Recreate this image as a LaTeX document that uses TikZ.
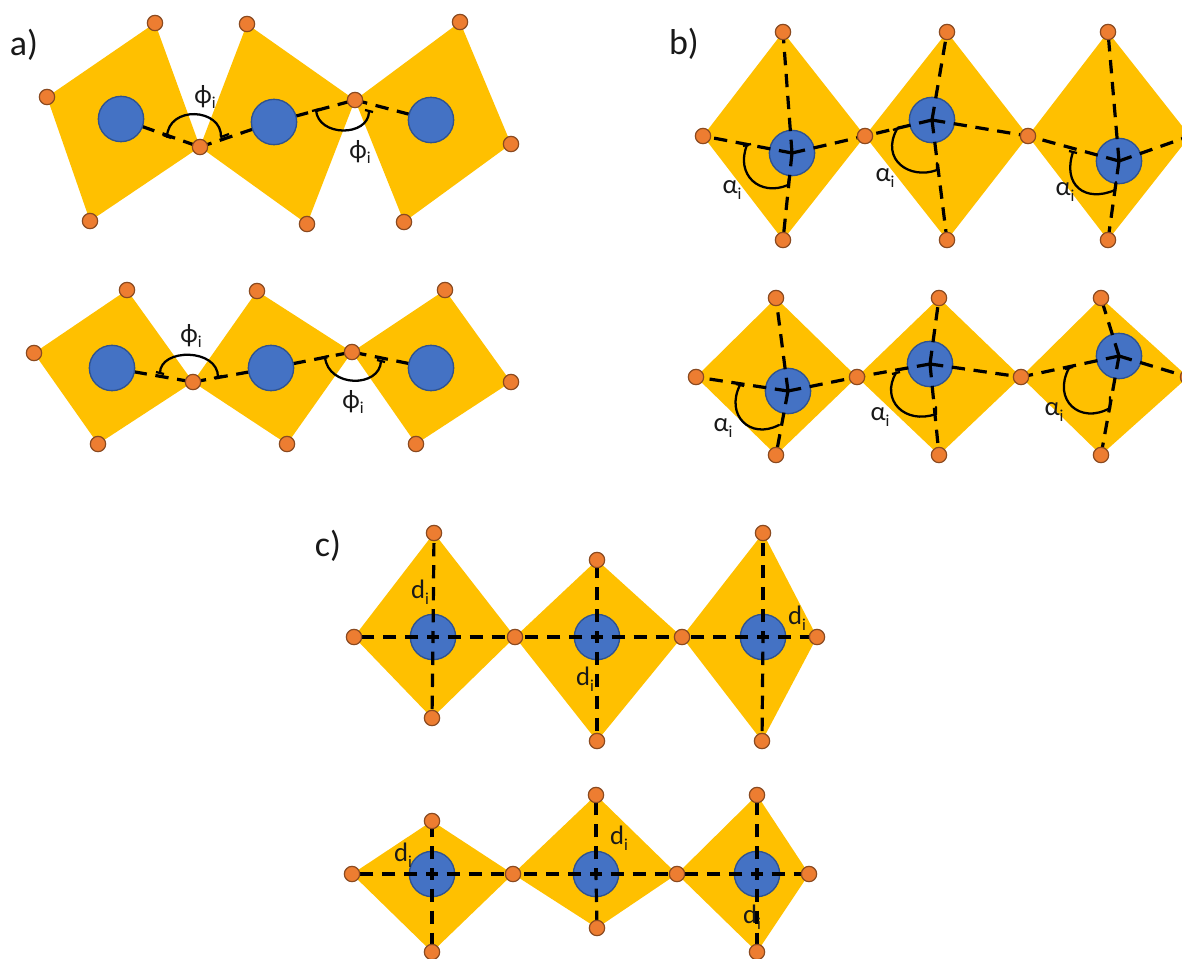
\documentclass[tikz,border=0pt]{standalone}
\usepackage{fontspec}
\setmainfont{Carlito}
\pgfdeclarelayer{yellowlayer}\pgfdeclarelayer{dashunder}\pgfdeclarelayer{bluelayer}\pgfdeclarelayer{dashover}
\pgfsetlayers{yellowlayer,dashunder,bluelayer,dashover,main}
\definecolor{faceY}{HTML}{FFC000}
\definecolor{metalB}{HTML}{4472C4}
\definecolor{metalE}{HTML}{2F528F}
\definecolor{oxO}{HTML}{ED7D31}
\definecolor{oxE}{HTML}{8A4A20}
\newcommand{\lbl}[2]{{\fontsize{20}{24}\selectfont #1\raisebox{-0.22em}{\fontsize{12.5}{15}\selectfont #2}}}
\tikzset{
 oxv/.style={circle,draw=oxE,fill=oxO,line width=0.9pt,minimum size=11.5pt,inner sep=0pt,outer sep=0pt},
 metal/.style={circle,draw=metalE,fill=metalB,line width=1pt,minimum size=34pt,inner sep=0pt,outer sep=0pt},
 face/.style={fill=faceY,draw=none},
 bond/.style={line width=2.4pt,dash pattern=on 10pt off 6.5pt,black},
 crossbond/.style={line width=2.4pt,dash pattern=on 10pt off 6.5pt,dash phase=5.5pt,black},
 anglearc/.style={line width=1.7pt,black,line cap=round},
 tick/.style={line width=1.7pt,black},
 txt/.style={inner sep=0pt,outer sep=0pt,text=black!90},
 panel/.style={txt,font=\fontsize{27}{32}\selectfont},
}
\begin{document}
\begin{tikzpicture}[x=0.75pt,y=-0.75pt]
\useasboundingbox (0,0) rectangle (1182,958);
\clip (0,0) rectangle (1182,958);
% oxygen vertices
\foreach \n/\x/\y in {
 a1t/155/23,a1l/47/97,a1b/90/221,a1s/200/147,a1u/247/24,a1d/307/224,a1q/355/100,a1w/460/22,a1e/404/222,a1r/511/144,
 a2t/127/290,a2l/34/353,a2b/98/444,a2s/193/382,a2u/257/291,a2d/287/444,a2q/352/352,a2w/445/290,a2e/416/444,a2r/511/382,
 b1t/783/32,b1l/703/136,b1b/783/240,b1s/865/136,b1u/947/32,b1d/947/240,b1q/1028/136,b1w/1108/32,b1e/1108/240,b1r/1190/136,
 b2t/776/298,b2l/696/377,b2b/776/455,b2s/857/377,b2u/939/298,b2d/939/455,b2q/1021/377,b2w/1101/298,b2e/1101/455,b2r/1188/377,
 c1t/434/533,c1l/354/637,c1b/432/718,c1s/515/637,c1u/597/560,c1d/597/741,c1q/682/637,c1w/763/533,c1e/762/741,c1r/817/637,
 c2t/432/821,c2l/352/874,c2b/432/952,c2s/513/874,c2u/596/795,c2d/597/928,c2q/677/874,c2w/757/795,c2e/757/952,c2r/809/874}
 {\node[oxv] (\n) at (\x,\y) {};}
% metal atoms
\begin{pgfonlayer}{bluelayer}
\foreach \n/\x/\y in {
 a1m/121/119,a1n/274/122,a1o/431/120,
 a2m/112/368,a2n/271/368,a2o/431/368,
 b1m/792/153,b1n/932/120,b1o/1119/161,
 b2m/788/391,b2n/930/364,b2o/1119/356,
 c1m/433/637,c1n/597/637,c1o/763/637,
 c2m/432/874,c2n/596/874,c2o/757/874}
 {\node[metal] (\n) at (\x,\y) {};}
\end{pgfonlayer}
% octahedra faces
\begin{pgfonlayer}{yellowlayer}
\foreach \p in {a1,a2,b1,b2,c1,c2}{
 \fill[face] (\p t.center) -- (\p s.center) -- (\p b.center) -- (\p l.center) -- cycle;
 \fill[face] (\p u.center) -- (\p q.center) -- (\p d.center) -- (\p s.center) -- cycle;
 \fill[face] (\p w.center) -- (\p r.center) -- (\p e.center) -- (\p q.center) -- cycle;
}
\end{pgfonlayer}
% bonds under the atoms (panel a)
\begin{pgfonlayer}{dashunder}
\foreach \p in {a1,a2}{
 \draw[bond] (\p m.center) -- (\p s.center);
 \draw[bond] (\p n.center) -- (\p s.center);
 \draw[bond] (\p n.center) -- (\p q.center);
 \draw[bond] (\p o.center) -- (\p q.center);
}
\end{pgfonlayer}
% bonds over the atoms (panels b, c)
\begin{pgfonlayer}{dashover}
\foreach \p in {b1,b2}{
 \foreach \v in {t,s,b,l}{\draw[bond] (\p m.center) -- (\p\v.center);}
 \foreach \v in {u,q,d,s}{\draw[bond] (\p n.center) -- (\p\v.center);}
 \foreach \v in {w,r,e,q}{\draw[bond] (\p o.center) -- (\p\v.center);}
}
\foreach \p in {c1,c2}{
 \foreach \v in {t,s,b,l}{\draw[crossbond] (\p m.center) -- (\p\v.center);}
 \foreach \v in {u,q,d,s}{\draw[crossbond] (\p n.center) -- (\p\v.center);}
 \foreach \v in {w,r,e,q}{\draw[crossbond] (\p o.center) -- (\p\v.center);}
}
\end{pgfonlayer}
% angle arcs, panel a
\draw[anglearc] (167,137) .. controls (168,105) and (222,108) .. (221,137);
\draw[tick] (163,135) -- (171,138); \draw[tick] (221,137) -- (229,134);
\draw[anglearc] (316,110) .. controls (318,137) and (368,137) .. (369,112);
\draw[tick] (312,111) -- (320,109); \draw[tick] (365,110) -- (373,112);
\draw[anglearc] (160,373) .. controls (160,348) and (218,348) .. (218,377);
\draw[tick] (156,372) -- (164,374); \draw[tick] (214,378) -- (222,376);
\draw[anglearc] (325,357) .. controls (328,388) and (380,388) .. (381,361);
\draw[tick] (321,358) -- (329,356); \draw[tick] (377,360) -- (385,362);
% angle arcs, panel b
\draw[anglearc] (747,145) .. controls (735,175) and (760,197) .. (788,185) -- (789,178);
\draw[anglearc] (897,129) .. controls (880,160) and (910,180) .. (937,170) -- (937,163);
\draw[anglearc] (1073,152) .. controls (1062,185) and (1085,203) .. (1115,190) -- (1116,182);
\draw[anglearc] (740,385) .. controls (725,415) and (750,440) .. (779,425);
\draw[anglearc] (896,373) .. controls (880,400) and (905,425) .. (936,414) -- (936,407);
\draw[anglearc] (1069,368) .. controls (1052,400) and (1080,425) .. (1110,408) -- (1110,397);
\draw[tick] (743,146) -- (751,144); \draw[tick] (893,130) -- (901,127); \draw[tick] (1069,151) -- (1077,153);
\draw[tick] (736,384) -- (744,386); \draw[tick] (892,374) -- (900,372); \draw[tick] (1065,369) -- (1073,367);
% labels
\node[panel] (la) at (24,45) {a)};
\node[panel] (lb) at (684,44) {b)};
\node[panel] (lc) at (328,546) {c)};
\foreach \n/\x/\y in {p1/205/97,p2/360/152,p3/191/336,p4/353/402}
 {\node[txt] (\n) at (\x,\y) {\lbl{ϕ}{i}};}
\foreach \n/\x/\y in {q1/732/190,q2/885/178,q3/1065/192,q4/723/428,q5/880/417,q6/1054/412}
 {\node[txt] (\n) at (\x,\y) {\lbl{α}{i}};}
\foreach \n/\x/\y in {r1/420/592,r2/585/679,r3/797/618,r4/403/855,r5/619/838,r6/752/917}
 {\node[txt] (\n) at (\x,\y) {\lbl{d}{i}};}
\end{tikzpicture}
\end{document}
